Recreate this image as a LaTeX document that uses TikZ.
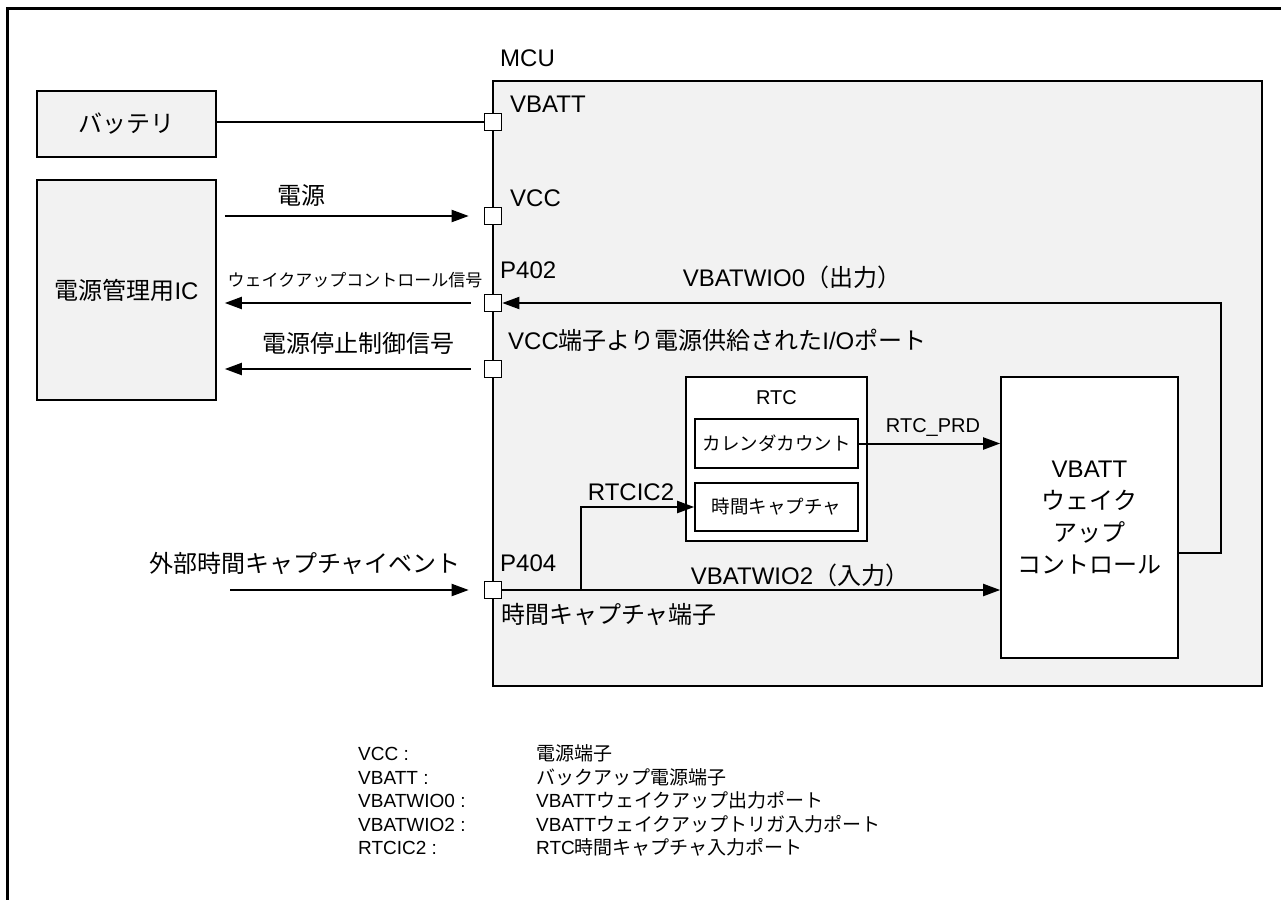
\documentclass[tikz,border=0pt]{standalone}
\usepackage{fontspec}
\setmainfont{Liberation Sans}
\newfontfamily\ja{Noto Sans CJK JP}
\usepackage{array}
\usetikzlibrary{arrows.meta}
\definecolor{boxgray}{HTML}{F2F2F2}
\tikzset{
  gbox/.style={draw,line width=1.6pt,fill=boxgray,inner sep=0pt},
  wbox/.style={draw,line width=1.6pt,fill=white,inner sep=0pt},
  port/.style={draw,line width=1.6pt,fill=white,minimum size=17pt,inner sep=0pt},
  wire/.style={line width=2pt},
  arr/.style={line width=2pt,-{Triangle[length=17pt,width=12pt]}},
  big/.style={font=\fontsize{24}{32}\selectfont,inner sep=0pt},
  mid/.style={font=\fontsize{20}{24}\selectfont,inner sep=0pt},
  boxtxt/.style={font=\fontsize{18.5}{22}\selectfont},
  small/.style={font=\fontsize{17}{20}\selectfont,inner sep=0pt},
  leg/.style={font=\fontsize{19}{23.5}\selectfont,inner sep=0pt,anchor=north west}
}

\begin{document}
\begin{tikzpicture}[x=1pt,y=-1pt]
\clip (0,0) rectangle (1281,899);
%% frame
\draw[line width=3pt] (7,910) -- (7,9) -- (1290,9);

%% boxes
\node[gbox,big,minimum width=179pt,minimum height=66pt] (batt) at (126.5,124) {\ja バッテリ};
\node[gbox,big,minimum width=179pt,minimum height=220pt] (pic) at (126.5,290) {{\ja 電源管理用}IC};
\node[gbox,minimum width=769pt,minimum height=605pt] (mcu) at (877.5,383.5) {};
\node[big,anchor=west] (mculbl) at (500,58) {MCU};

\node[wbox,minimum width=181pt,minimum height=164pt] (rtc) at (776.5,459) {};
\node[mid] (rtclbl) at (776.5,398) {RTC};
\node[wbox,boxtxt,minimum width=163pt,minimum height=49pt] (cal) at (776.5,443.5) {\ja カレンダカウント};
\node[wbox,boxtxt,minimum width=163pt,minimum height=48pt] (cap) at (776.5,507) {\ja 時間キャプチャ};

\node[wbox,big,align=center,minimum width=177pt,minimum height=281pt] (wake) at (1089.5,517.5)
  {VBATT\\{\ja ウェイク}\\{\ja アップ}\\{\ja コントロール}};

%% ports
\node[port] (vbattp) at (493,122) {};
\node[port] (vccp) at (493,216) {};
\node[port] (p402) at (493,303) {};
\node[port] (iop) at (493,369) {};
\node[port] (p404) at (493,590) {};

\node[big,anchor=west] (vbattlbl) at (510,104) {VBATT};
\node[big,anchor=west] (vcclbl) at (510,198) {VCC};
\node[big,anchor=west] (p402lbl) at (500,270) {P402};
\node[big,anchor=west] (iolbl) at (508,340) {VCC{\ja 端子より電源供給された}I/O{\ja ポート}};
\node[big,anchor=west] (p404lbl) at (500,563) {P404};
\node[big,anchor=west] (tcplbl) at (501,614) {\ja 時間キャプチャ端子};

%% signals
\draw[wire] (vbattp.west -| batt.east) -- (vbattp.west);

\draw[arr,shorten <=8pt,shorten >=15pt] (pic.east |- vccp.west) -- (vccp.west);
\node[big] (pwrlbl) at (301,195) {\ja 電源};

\draw[arr,shorten <=13pt,shorten >=8pt] (p402.west) -- (pic.east |- p402.west);
\node[small] (wcslbl) at (355,280) {\ja ウェイクアップコントロール信号};

\draw[arr,shorten <=13pt,shorten >=8pt] (iop.west) -- (pic.east |- iop.west);
\node[big] (stoplbl) at (358,343) {\ja 電源停止制御信号};

\coordinate (evtin) at (230,590);
\draw[arr,shorten >=15pt] (evtin) -- (p404.west);
\node[big] (evtlbl) at (305,563) {\ja 外部時間キャプチャイベント};

\draw[arr] (p404.east) -- (wake.west |- p404.east);
\node[big] (wio2lbl) at (800,575) {VBATWIO2{\ja （入力）}};

\coordinate (rtcjn) at (581,590);
\draw[arr] (rtcjn) |- (cap.west);
\node[big] (ic2lbl) at (631,492) {RTCIC2};

\draw[arr] (cal.east) -- (wake.west |- cal.east);
\node[mid] (prdlbl) at (933,427) {RTC\_PRD};

\draw[arr] ([yshift=-35.5pt]wake.east) -- ++(42,0) |- (p402.east);
\node[big] (wio0lbl) at (792,277) {VBATWIO0{\ja （出力）}};

%% legend
\node[leg] (legend) at (358,744) {%
  \begin{tabular}{@{}p{178pt}@{}l@{}}
  VCC :      & {\ja 電源端子}\\
  VBATT :    & {\ja バックアップ電源端子}\\
  VBATWIO0 : & VBATT{\ja ウェイクアップ出力ポート}\\
  VBATWIO2 : & VBATT{\ja ウェイクアップトリガ入力ポート}\\
  RTCIC2 :   & RTC{\ja 時間キャプチャ入力ポート}
  \end{tabular}};
\end{tikzpicture}
\end{document}
